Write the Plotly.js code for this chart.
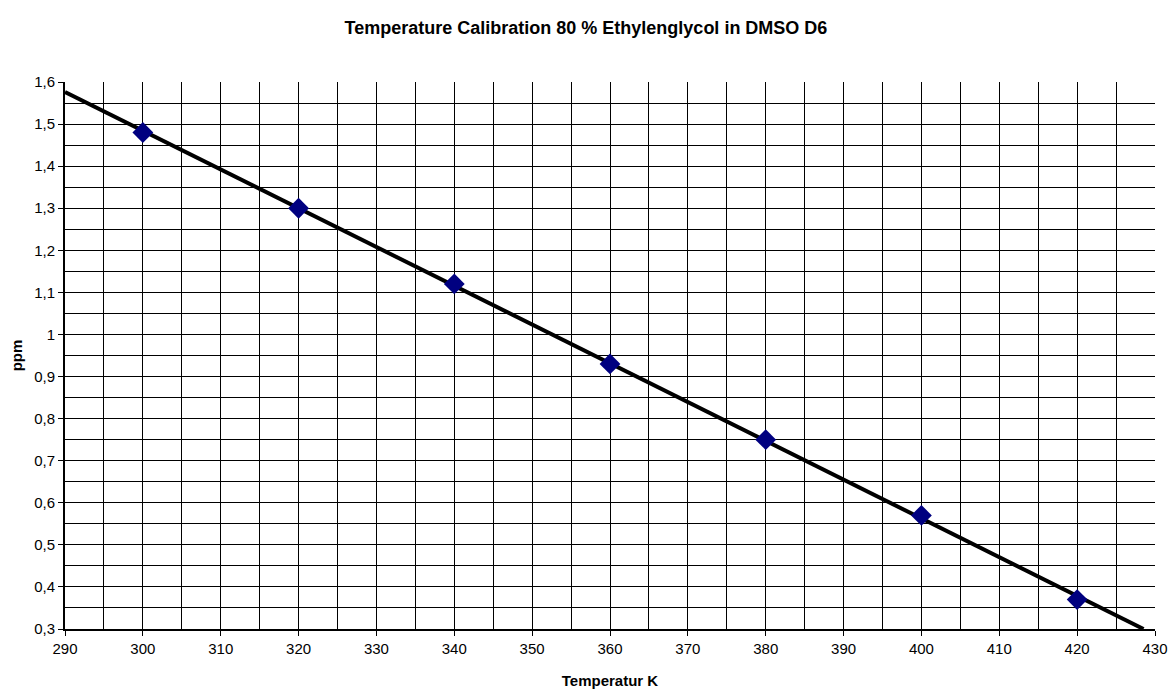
<!DOCTYPE html>
<html>
<head>
<meta charset="utf-8">
<script src="https://cdn.plot.ly/plotly-3.0.1.min.js"></script>
<style>html,body{margin:0;padding:0;background:#fff;}#chart{width:1172px;height:690px;}</style>
</head>
<body>
<div id="chart"></div>
<script>
const temperatures = [300, 320, 340, 360, 380, 400, 420];
const ppmValues = [1.48, 1.30, 1.12, 0.93, 0.75, 0.57, 0.37];
const trendXStart = 290;
const trendYEnd = 0.3;

// least-squares trendline from the data
const n = temperatures.length;
const mx = temperatures.reduce((a, b) => a + b, 0) / n;
const my = ppmValues.reduce((a, b) => a + b, 0) / n;
let sxy = 0, sxx = 0;
for (let i = 0; i < n; i++) {
  sxy += (temperatures[i] - mx) * (ppmValues[i] - my);
  sxx += (temperatures[i] - mx) * (temperatures[i] - mx);
}
const slope = sxy / sxx;
const intercept = my - slope * mx;
const trendXEnd = (trendYEnd - intercept) / slope;
const trendX = [trendXStart, trendXEnd];
const trendY = trendX.map(x => intercept + slope * x);

const font = "Liberation Sans, Arial, sans-serif";

const data = [
  {
    x: trendX, y: trendY, type: 'scatter', mode: 'lines',
    line: {color: '#000000', width: 4}, hoverinfo: 'skip', showlegend: false
  },
  {
    x: temperatures, y: ppmValues, type: 'scatter', mode: 'markers',
    marker: {symbol: 'diamond', size: 16, color: '#000080', line: {width: 0}},
    showlegend: false, cliponaxis: false
  }
];

const layout = {
  width: 1172, height: 690,
  paper_bgcolor: '#ffffff', plot_bgcolor: '#ffffff',
  separators: ',.',
  margin: {l: 65, r: 17, t: 82, b: 61},
  font: {family: font, size: 15, color: '#000000'},
  title: {
    text: '<b>Temperature Calibration 80 % Ethylenglycol in DMSO D6</b>',
    font: {family: font, size: 18, color: '#000000'},
    x: 0.5, xanchor: 'center', y: 0.96, yanchor: 'middle'
  },
  xaxis: {
    range: [290, 430], dtick: 10, tick0: 290,
    showgrid: true, gridcolor: '#000000', gridwidth: 1,
    minor: {dtick: 5, showgrid: true, gridcolor: '#000000', gridwidth: 1, ticks: ''},
    showline: true, linecolor: '#000000', linewidth: 2,
    ticks: 'outside', ticklen: 5, tickcolor: '#000000', tickwidth: 1,
    tickfont: {family: font, size: 15, color: '#000000'},
    zeroline: false,
    title: {text: '<b>Temperatur K</b>', font: {family: font, size: 15, color: '#000000'}, standoff: 19}
  },
  yaxis: {
    range: [0.3, 1.6], dtick: 0.1, tick0: 0.3,
    showgrid: true, gridcolor: '#000000', gridwidth: 1,
    minor: {dtick: 0.05, showgrid: true, gridcolor: '#000000', gridwidth: 1, ticks: ''},
    showline: true, linecolor: '#000000', linewidth: 2,
    ticks: 'outside', ticklen: 5, tickcolor: '#000000', tickwidth: 1,
    tickfont: {family: font, size: 15, color: '#000000'},
    zeroline: false,
    title: {text: '<b>ppm</b>', font: {family: font, size: 15, color: '#000000'}, standoff: 8}
  }
};

Plotly.newPlot('chart', data, layout, {displayModeBar: false, responsive: false});
</script>
</body>
</html>
